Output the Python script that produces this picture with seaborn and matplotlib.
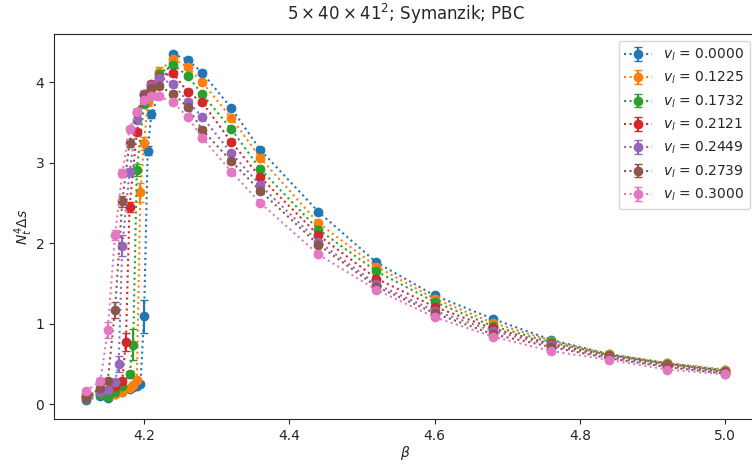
import matplotlib
matplotlib.use("Agg")
import matplotlib.pyplot as plt
import seaborn as sns

# beta values and N_t^4 Delta s for each v_l
labels = ["0.0000", "0.1225", "0.1732", "0.2121", "0.2449", "0.2739", "0.3000"]

tail_x = [4.24, 4.26, 4.28, 4.32, 4.36, 4.44, 4.52, 4.60, 4.68, 4.76, 4.84, 4.92, 5.00]

x_v0 = [4.12, 4.14, 4.15, 4.16, 4.17, 4.18, 4.185, 4.19, 4.195, 4.20, 4.205, 4.21] + tail_x
y_v0 = [0.05, 0.10, 0.08, 0.12, 0.15, 0.19, 0.21, 0.23, 0.25, 1.09, 3.15, 3.60,
        4.35, 4.28, 4.12, 3.68, 3.16, 2.39, 1.76, 1.35, 1.06, 0.80, 0.62, 0.51, 0.42]
e_v0 = [0.02, 0.02, 0.02, 0.02, 0.02, 0.02, 0.02, 0.02, 0.03, 0.21, 0.06, 0.05,
        0.03, 0.03, 0.03, 0.03, 0.03, 0.02, 0.02, 0.02, 0.02, 0.01, 0.01, 0.01, 0.01]

x_v1 = [4.12, 4.14, 4.15, 4.16, 4.17, 4.18, 4.185, 4.19, 4.195, 4.20, 4.205, 4.21, 4.22] + tail_x
y_v1 = [0.08, 0.12, 0.10, 0.13, 0.15, 0.20, 0.24, 0.30, 2.63, 3.24, 3.75, 3.90, 4.13,
        4.29, 4.19, 4.00, 3.56, 3.06, 2.25, 1.71, 1.31, 1.01, 0.79, 0.62, 0.51, 0.43]
e_v1 = [0.02, 0.02, 0.02, 0.02, 0.02, 0.02, 0.02, 0.03, 0.12, 0.08, 0.05, 0.04, 0.06,
        0.03, 0.03, 0.03, 0.03, 0.03, 0.02, 0.02, 0.02, 0.02, 0.01, 0.01, 0.01, 0.01]

x_v2 = [4.12, 4.14, 4.15, 4.16, 4.17, 4.18, 4.185, 4.19, 4.20, 4.21, 4.22] + tail_x
y_v2 = [0.10, 0.12, 0.09, 0.15, 0.22, 0.37, 0.74, 2.91, 3.73, 3.95, 4.10,
        4.22, 4.08, 3.85, 3.42, 2.92, 2.17, 1.65, 1.27, 0.97, 0.77, 0.61, 0.50, 0.41]
e_v2 = [0.02, 0.02, 0.02, 0.02, 0.03, 0.04, 0.19, 0.07, 0.04, 0.04, 0.04,
        0.03, 0.03, 0.03, 0.03, 0.03, 0.02, 0.02, 0.02, 0.02, 0.01, 0.01, 0.01, 0.01]

x_v3 = [4.12, 4.14, 4.15, 4.16, 4.17, 4.175, 4.18, 4.19, 4.20, 4.21, 4.22] + tail_x
y_v3 = [0.10, 0.17, 0.18, 0.22, 0.29, 0.77, 2.45, 3.38, 3.85, 3.98, 4.07,
        4.11, 3.88, 3.75, 3.26, 2.82, 2.10, 1.56, 1.21, 0.94, 0.75, 0.60, 0.49, 0.40]
e_v3 = [0.02, 0.02, 0.02, 0.02, 0.03, 0.11, 0.06, 0.04, 0.04, 0.04, 0.04,
        0.03, 0.03, 0.03, 0.03, 0.03, 0.02, 0.02, 0.02, 0.02, 0.01, 0.01, 0.01, 0.01]

x_v4 = [4.12, 4.14, 4.15, 4.16, 4.165, 4.17, 4.18, 4.19, 4.20, 4.21, 4.22] + tail_x
y_v4 = [0.12, 0.15, 0.17, 0.27, 0.50, 1.97, 2.88, 3.53, 3.85, 3.97, 4.05,
        3.98, 3.76, 3.57, 3.12, 2.72, 2.02, 1.49, 1.16, 0.91, 0.73, 0.58, 0.47, 0.39]
e_v4 = [0.02, 0.02, 0.02, 0.03, 0.10, 0.13, 0.05, 0.04, 0.04, 0.04, 0.04,
        0.03, 0.03, 0.03, 0.03, 0.03, 0.02, 0.02, 0.02, 0.02, 0.01, 0.01, 0.01, 0.01]

x_v5 = [4.12, 4.14, 4.15, 4.16, 4.17, 4.18, 4.19, 4.20, 4.21, 4.22] + tail_x
y_v5 = [0.07, 0.20, 0.29, 1.17, 2.52, 3.25, 3.63, 3.84, 3.93, 3.95,
        3.86, 3.69, 3.41, 3.02, 2.65, 1.98, 1.46, 1.13, 0.87, 0.71, 0.57, 0.46, 0.38]
e_v5 = [0.02, 0.02, 0.03, 0.10, 0.07, 0.05, 0.04, 0.04, 0.04, 0.04,
        0.03, 0.03, 0.03, 0.03, 0.03, 0.02, 0.02, 0.02, 0.02, 0.01, 0.01, 0.01, 0.01]

x_v6 = [4.12, 4.14, 4.15, 4.16, 4.17, 4.18, 4.19, 4.20, 4.21, 4.22] + tail_x
y_v6 = [0.16, 0.29, 0.92, 2.10, 2.87, 3.42, 3.63, 3.78, 3.83, 3.83,
        3.75, 3.57, 3.31, 2.89, 2.50, 1.86, 1.42, 1.08, 0.84, 0.66, 0.55, 0.43, 0.37]
e_v6 = [0.02, 0.03, 0.10, 0.06, 0.05, 0.04, 0.04, 0.04, 0.04, 0.04,
        0.03, 0.03, 0.03, 0.03, 0.03, 0.02, 0.02, 0.02, 0.02, 0.01, 0.01, 0.01, 0.01]

xs = [x_v0, x_v1, x_v2, x_v3, x_v4, x_v5, x_v6]
ys = [y_v0, y_v1, y_v2, y_v3, y_v4, y_v5, y_v6]
es = [e_v0, e_v1, e_v2, e_v3, e_v4, e_v5, e_v6]

sns.set_style("ticks")
plt.rcParams["font.family"] = ["DejaVu Sans"]
colors = sns.color_palette("tab10", 7)

fig = plt.figure(figsize=(7.52, 4.65), dpi=100)
ax = fig.add_axes([0.0718, 0.0985, 0.935, 0.828])

for x, y, e, lab, c in zip(xs, ys, es, labels, colors):
    ax.errorbar(x, y, yerr=e, fmt="o:", color=c, ms=6, capsize=3,
                label=r"$v_l$ = " + lab)

ax.set_title(r"$5\times40\times41^2$; Symanzik; PBC", fontsize=12, pad=10)
ax.set_xlabel(r"$\beta$", labelpad=1)
ax.set_ylabel(r"$N_t^4\Delta s$", labelpad=0)
ax.set_xticks([4.2, 4.4, 4.6, 4.8, 5.0])
ax.legend(loc="upper right", frameon=True)

plt.savefig("out.png", dpi=100)
